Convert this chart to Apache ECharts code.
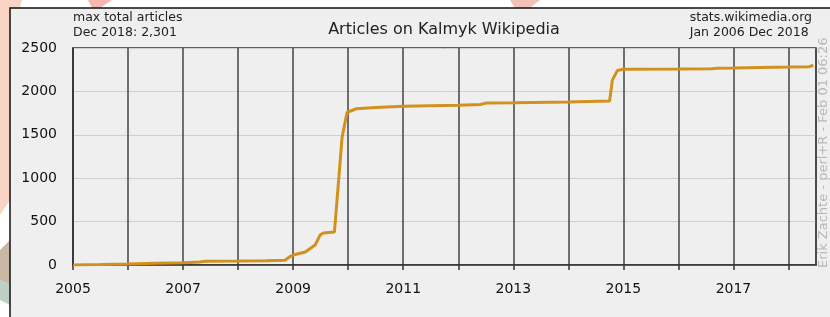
<!DOCTYPE html>
<html><head><meta charset="utf-8">
<script src="https://cdn.jsdelivr.net/npm/echarts@6/dist/echarts.min.js"></script>
<style>html,body{margin:0;padding:0;background:#fff}#c{width:830px;height:317px}</style>
</head><body><div id="c"></div>
<script>
// decimal years and article counts
var years = [2005.0, 2005.5, 2006.0, 2006.5, 2007.0, 2007.3, 2007.4, 2008.0, 2008.5, 2008.85, 2008.95, 2009.0,
  2009.22, 2009.4, 2009.49, 2009.55, 2009.75, 2009.89, 2009.98, 2010.15, 2010.5, 2011.0, 2012.0, 2012.4,
  2012.5, 2013.0, 2014.0, 2014.75, 2014.8, 2014.89, 2015.0, 2016.0, 2016.6, 2016.7, 2017.0, 2018.0, 2018.38, 2018.45];
var articles = [0, 5, 12, 20, 27, 35, 43, 46, 50, 55, 100, 115,
  150, 230, 345, 370, 380, 1475, 1760, 1800, 1815, 1828, 1840, 1850,
  1865, 1868, 1878, 1890, 2130, 2240, 2255, 2257, 2262, 2268, 2270, 2280, 2285, 2301];
var yTicks = [0, 500, 1000, 1500, 2000, 2500];
var xLabelYears = [2005, 2007, 2009, 2011, 2013, 2015, 2017];

var points = years.map(function (y, i) { return [y, articles[i]]; });
var chart = echarts.init(document.getElementById('c'));
var F = 'DejaVu Sans';
chart.setOption({
  backgroundColor: '#fff',
  animation: false,
  graphic: [
    {type: 'polygon', shape: {points: [[0,0],[22,0],[10,40],[10,200],[0,215]]}, style: {fill: '#f9d3c4'}, z: -10},
    {type: 'polygon', shape: {points: [[88,0],[112,0],[100,8],[92,8]]}, style: {fill: '#f4b7b0'}, z: -10},
    {type: 'polygon', shape: {points: [[510,0],[540,0],[530,8],[515,8]]}, style: {fill: '#f3c1b5'}, z: -10},
    {type: 'polygon', shape: {points: [[0,250],[10,240],[10,285],[0,280]]}, style: {fill: '#c9b9a4'}, z: -10},
    {type: 'polygon', shape: {points: [[0,280],[10,285],[10,305],[0,300]]}, style: {fill: '#bcd0c4'}, z: -10},
    {type: 'rect', shape: {x: 10, y: 8, width: 830, height: 320}, style: {fill: '#efefef', stroke: '#111', lineWidth: 1.5}, z: -5},
    {type: 'text', left: 73, top: 10, style: {text: 'max total articles\nDec 2018: 2,301', fill: '#222', font: '12.5px "DejaVu Sans"', lineHeight: 15}},
    {type: 'text', right: 18, top: 10, style: {text: 'stats.wikimedia.org\nJan 2006 Dec 2018', fill: '#222', font: '12.5px "DejaVu Sans"', lineHeight: 15, align: 'right'}},
    {type: 'text', x: 444, y: 30, style: {text: 'Articles on Kalmyk Wikipedia', fill: '#222', font: '16px "DejaVu Sans"', align: 'center', verticalAlign: 'middle'}},
    {type: 'text', x: 824, y: 268, rotation: Math.PI / 2, style: {text: 'Erik Zachte - perl+R - Feb 01 06:26', fill: '#b8b8b8', font: '13px "DejaVu Sans"', align: 'left', verticalAlign: 'middle'}}
  ],
  grid: {left: 73, right: 14, top: 48, bottom: 52, show: true, borderColor: '#333', borderWidth: 1.5, backgroundColor: 'transparent'},
  xAxis: {
    type: 'value', min: 2005, max: 2018.5, interval: 1,
    axisLine: {show: true, lineStyle: {color: '#333', width: 1.5}},
    axisTick: {show: true, length: 5, lineStyle: {color: '#333', width: 1.5}},
    axisLabel: {color: '#111', fontFamily: F, fontSize: 14, margin: 17, showMaxLabel: false,
      formatter: function (v) { return xLabelYears.indexOf(Math.round(v)) >= 0 ? String(Math.round(v)) : ''; }},
    splitLine: {show: true, lineStyle: {color: '#444', width: 1.5}}
  },
  yAxis: {
    type: 'value', min: 0, max: 2500, interval: 500,
    axisLine: {show: true, lineStyle: {color: '#333', width: 1.5}},
    axisTick: {show: false},
    axisLabel: {color: '#111', fontFamily: F, fontSize: 14, margin: 16,
      formatter: function (v) { return yTicks.indexOf(v) >= 0 ? String(v) : ''; }},
    splitLine: {show: true, lineStyle: {color: '#cfcfcf', width: 1}}
  },
  series: [{
    type: 'line', data: points, showSymbol: false, smooth: false,
    lineStyle: {color: '#d2911d', width: 3}
  }]
});
</script></body></html>
